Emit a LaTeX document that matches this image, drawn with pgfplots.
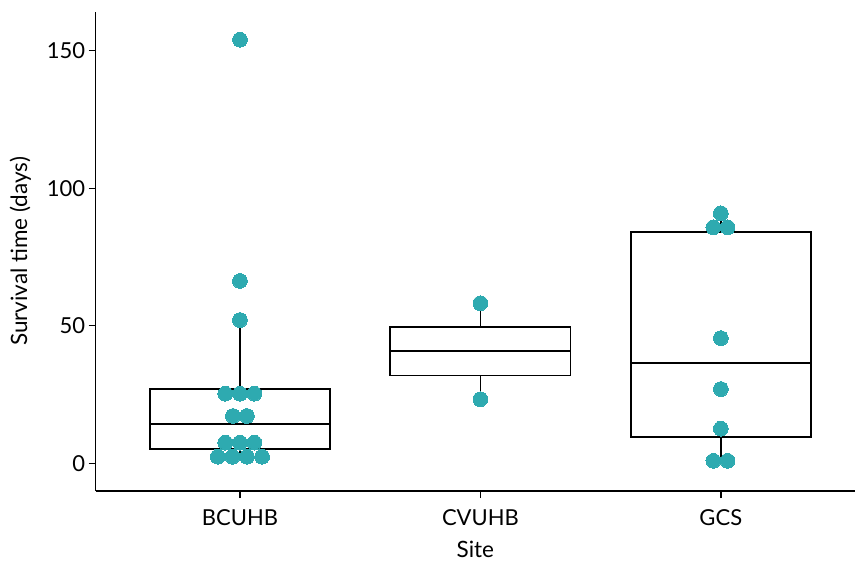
\documentclass[border=0pt]{standalone}
\usepackage{fontspec}
\setmainfont{Lato}
\usepackage{pgfplots}
\pgfplotsset{compat=1.18}
\definecolor{dotcol}{RGB}{46,170,176}
\begin{document}
\begin{tikzpicture}
\useasboundingbox (-95.7bp,-70bp) rectangle (759.3bp,491bp);
\begin{axis}[
  at={(0,0)}, anchor=south west,
  scale only axis,
  width=759.3bp, height=479.3bp,
  xmin=0.4, xmax=3.558,
  ymin=-10.07, ymax=164.2,
  axis lines=left,
  axis line style={-, line width=1.6bp, black},
  xtick={1,2,3},
  xticklabels={BCUHB,CVUHB,GCS},
  ytick={0,50,100,150},
  tick align=outside,
  major tick length=7bp,
  tick style={line width=1.4bp, black},
  /pgf/number format/assume math mode=true,
  tick label style={font=\fontsize{22bp}{26bp}\selectfont, black},
  label style={font=\fontsize{22.5bp}{26bp}\selectfont, black, inner sep=0pt},
  xticklabel style={yshift=-8bp},
  xlabel={Site},
  ylabel={Survival time (days)},
  xlabel style={at={(axis description cs:0.5,0)}, anchor=base, yshift=-66bp},
  ylabel style={at={(axis description cs:0,0.5)}, anchor=base, yshift=68.5bp},
  clip=false,
]
% whiskers (lower, upper) for each site
\addplot[no marks, black, line width=1.7bp] coordinates {(1,2.4) (1,5.1)};
\addplot[no marks, black, line width=1.7bp] coordinates {(1,27.0) (1,52.1)};
\addplot[no marks, black, line width=1.7bp] coordinates {(2,23.3) (2,31.9)};
\addplot[no marks, black, line width=1.7bp] coordinates {(2,49.5) (2,58.2)};
\addplot[no marks, black, line width=1.7bp] coordinates {(3,0.9) (3,9.5)};
\addplot[no marks, black, line width=1.7bp] coordinates {(3,84.0) (3,90.9)};
% boxes: lower quartile to upper quartile, width 0.75
\addplot[no marks, black, line width=1.7bp, fill=white] coordinates {(0.625,5.1) (1.375,5.1) (1.375,27.0) (0.625,27.0)} -- cycle;
\addplot[no marks, black, line width=1.7bp, fill=white] coordinates {(1.625,31.9) (2.375,31.9) (2.375,49.5) (1.625,49.5)} -- cycle;
\addplot[no marks, black, line width=1.7bp, fill=white] coordinates {(2.625,9.5) (3.375,9.5) (3.375,84.0) (2.625,84.0)} -- cycle;
% medians
\addplot[no marks, black, line width=1.7bp] coordinates {(0.625,14.3) (1.375,14.3)};
\addplot[no marks, black, line width=1.7bp] coordinates {(1.625,40.8) (2.375,40.8)};
\addplot[no marks, black, line width=1.7bp] coordinates {(2.625,36.5) (3.375,36.5)};
% observations
\addplot[only marks, color=dotcol, mark=*, mark size=7.4bp, mark options={draw=dotcol, fill=dotcol, line width=0pt}] coordinates {
(1,154.0) (1,66.3) (1,52.1)
(0.939,25.3) (1.0,25.3) (1.06,25.3)
(0.971,17.2) (1.029,17.2)
(0.939,7.5) (1.0,7.5) (1.06,7.5)
(0.908,2.4) (0.969,2.4) (1.029,2.4) (1.092,2.4)
(2,58.2) (2,23.3)
(3,90.9) (2.969,85.8) (3.028,85.8) (3,45.5) (3,27.0) (3,12.6) (2.969,0.9) (3.028,0.9)
};
\end{axis}
\end{tikzpicture}
\end{document}
